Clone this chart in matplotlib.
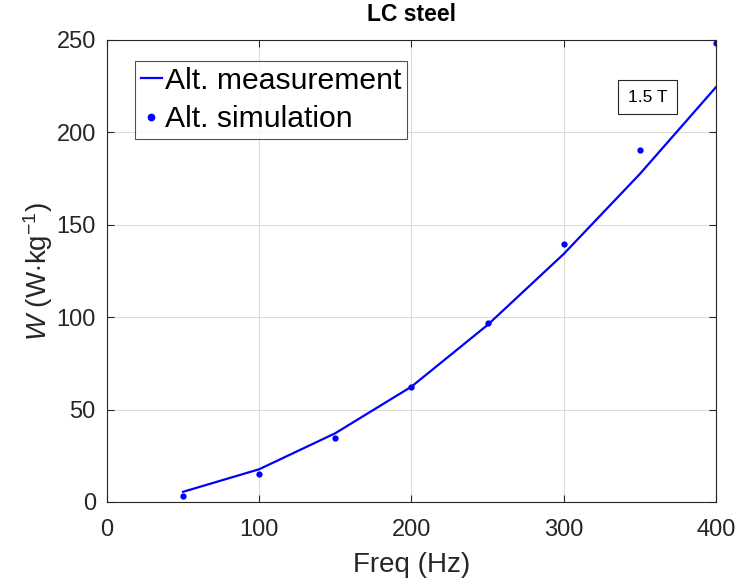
import matplotlib
matplotlib.use("Agg")
import matplotlib.pyplot as plt

plt.rcParams['font.family'] = ['Liberation Sans', 'DejaVu Sans']
plt.rcParams['mathtext.fontset'] = 'custom'
plt.rcParams['mathtext.rm'] = 'Liberation Sans'
plt.rcParams['mathtext.it'] = 'Liberation Sans:italic'
plt.rcParams['mathtext.bf'] = 'Liberation Sans:bold'

freq = [50, 100, 150, 200, 250, 300, 350, 400]
meas = [5.5, 17.7, 37.2, 62.4, 95.8, 134.2, 177.5, 224.5]
sim = [3.4, 15.0, 34.5, 62.0, 96.9, 139.8, 190.5, 248.5]
xticks = [0, 100, 200, 300, 400]
yticks = [0, 50, 100, 150, 200, 250]

fig = plt.figure(figsize=(7.37, 5.88), dpi=100)
ax = fig.add_axes([0.145, 0.1463, 0.8265, 0.7857])

ax.plot(freq, meas, '-', color='#0000ff', lw=1.6, label='Alt. measurement')
ax.plot(freq, sim, '.', color='#0000ff', ms=7, label='Alt. simulation')

ax.set_xlim(0, 400)
ax.set_ylim(0, 250)
ax.set_xticks(xticks)
ax.set_yticks(yticks)
ax.grid(True, color='#dcdcdc', lw=0.8)
ax.set_axisbelow(True)
ax.tick_params(direction='in', top=True, right=True, labelsize=17,
               colors='#262626', length=5, width=0.8)
ax.tick_params(axis='x', pad=12)
ax.tick_params(axis='y', pad=8)
for s in ax.spines.values():
    s.set_color('#262626')
    s.set_linewidth(0.8)

ax.set_xlabel('Freq (Hz)', fontsize=20, color='#262626', labelpad=8)
ax.set_ylabel(r'$\mathit{W}$ (W$\cdot$kg$^{-1}$)', fontsize=20, color='#262626', labelpad=1)
ax.set_title('LC steel', fontsize=16.5, fontweight='bold', pad=14)

leg = ax.legend(loc='upper left', bbox_to_anchor=(0.046, 0.955), fontsize=21.7,
                frameon=True, fancybox=False, edgecolor='#262626',
                handlelength=0.7, handletextpad=0.1, borderpad=0.2,
                labelspacing=0.35, borderaxespad=0, markerscale=1.3)
leg.get_frame().set_linewidth(0.8)

ax.text(355, 219, '1.5 T', fontsize=12.5, ha='center', va='center',
        bbox=dict(boxstyle='square,pad=0.55', fc='white', ec='#262626', lw=0.8))

fig.savefig('out.png', dpi=100)
